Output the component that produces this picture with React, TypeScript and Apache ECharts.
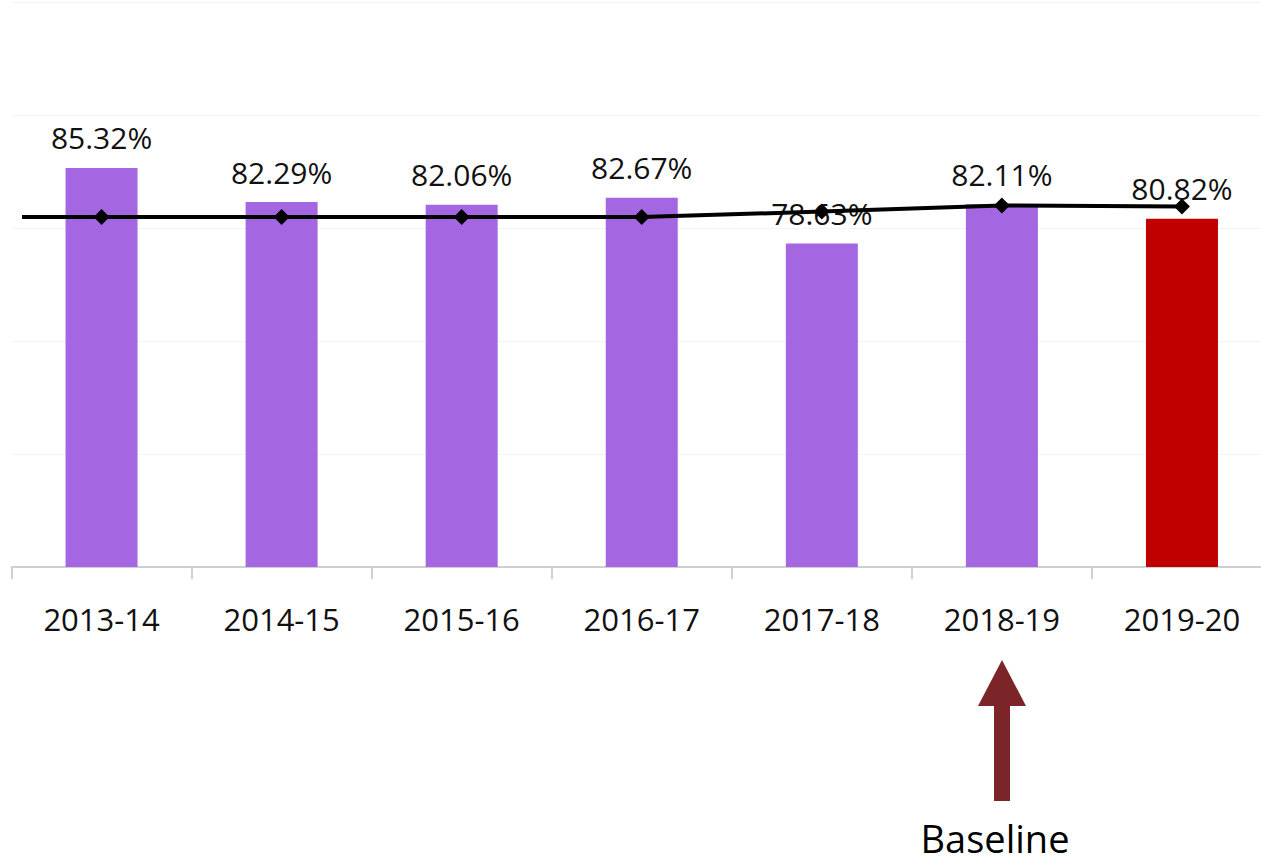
import React, { useEffect, useRef } from "react";
import * as echarts from "echarts";

const categories = ["2013-14", "2014-15", "2015-16", "2016-17", "2017-18", "2018-19", "2019-20"];
const barValues = [85.32, 82.29, 82.06, 82.67, 78.63, 82.11, 80.82];
const lineValues = [80.97, 80.97, 80.97, 80.97, 81.45, 82.0, 81.9];
const purple = "#A567E1";
const red = "#C00000";
const arrowColor = "#7B2528";

export default function App() {
  const ref = useRef<HTMLDivElement>(null);
  useEffect(() => {
    if (!ref.current) return;
    const chart = echarts.init(ref.current, undefined, { renderer: "svg" });
    const font = "'Open Sans', Lato, sans-serif";
    chart.setOption({
      animation: false,
      backgroundColor: "#ffffff",
      grid: { left: 11.5, right: 0, top: 2, bottom: 297, containLabel: false },
      xAxis: {
        type: "category",
        data: categories,
        axisLine: { show: true, lineStyle: { color: "#cfcfcf", width: 2 } },
        axisTick: { show: true, length: 12, lineStyle: { color: "#cfcfcf", width: 2 } },
        axisLabel: { color: "#111", fontSize: 31, fontFamily: font, margin: 36 },
      },
      yAxis: {
        type: "value",
        min: 50,
        max: 100,
        interval: 10,
        axisLabel: { show: false },
        axisLine: { show: false },
        axisTick: { show: false },
        splitLine: { show: true, lineStyle: { color: "#f3f3f3", width: 1 } },
      },
      series: [
        {
          type: "bar",
          data: barValues.map((v, i) => ({
            value: v,
            itemStyle: { color: i === barValues.length - 1 ? red : purple },
          })),
          barWidth: 72,
          label: {
            show: true,
            position: "top",
            distance: 15,
            color: "#111",
            fontSize: 30,
            fontFamily: font,
            formatter: (p: any) => p.value.toFixed(2) + "%",
          },
          z: 2,
        },
        {
          type: "line",
          data: lineValues,
          symbol: "diamond",
          symbolSize: 16,
          itemStyle: { color: "#000" },
          lineStyle: { color: "#000", width: 4 },
          z: 3,
          markLine: {
            silent: true,
            symbol: "none",
            label: { show: false },
            lineStyle: { color: "#000", width: 4, type: "solid" },
            data: [[{ x: 22, yAxis: lineValues[0] }, { xAxis: 0, yAxis: lineValues[0] }]],
          },
        },
      ],
      graphic: [
        {
          type: "polygon",
          shape: {
            points: [
              [1002, 660],
              [1026, 706],
              [1010, 706],
              [1010, 801],
              [994, 801],
              [994, 706],
              [978, 706],
            ],
          },
          style: { fill: arrowColor },
        },
        {
          type: "text",
          x: 995,
          y: 838,
          style: {
            text: "Baseline",
            fill: "#000",
            fontSize: 38,
            fontFamily: "'Open Sans', Lato, sans-serif",
            align: "center",
            verticalAlign: "middle",
          },
        },
      ],
    });
    return () => chart.dispose();
  }, []);
  return (
    <div
      ref={ref}
      style={{ position: "fixed", left: 0, top: 0, width: 1272, height: 864 }}
    />
  );
}
